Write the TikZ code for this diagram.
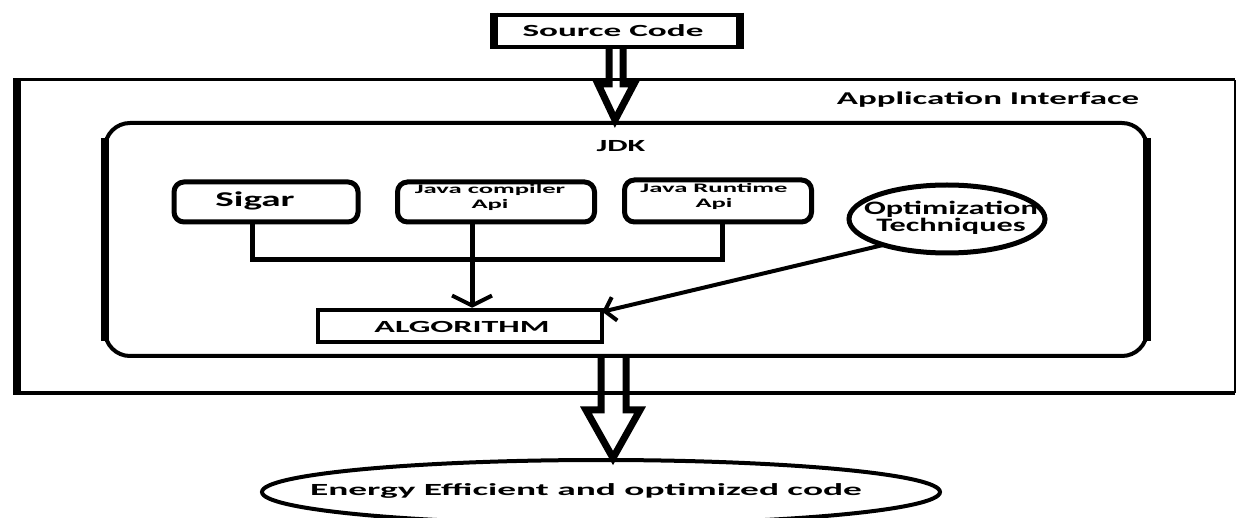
\documentclass[tikz,border=0pt]{standalone}
\usepackage{fontspec}
\setmainfont{Carlito}[BoldFont={Carlito Bold}]
\usepackage{graphicx}
\usetikzlibrary{shapes.geometric,arrows.meta}
\newcommand{\stretchtxt}[2]{\scalebox{#1}[1]{#2}}
\tikzset{
  txt/.style={inner sep=0pt, font=\bfseries},
  rbox/.style={draw, line width=5, rounded corners=10, inner sep=0pt},
  sbox/.style={draw, line width=4.5, inner sep=0pt},
  conn/.style={line width=5},
  barb/.style={-{Straight Barb[length=10,width=40,line width=4]}},
  hollow/.style={line width=7, line join=miter},
}
\begin{document}
\begin{tikzpicture}[x=1pt,y=-1pt]
\useasboundingbox (0,0) rectangle (1237,518);
% outer box (Application Interface)
\draw[line width=3] (17,80) -- (1235,80);
\draw[line width=2] (1235,80) -- (1235,393);
\draw[line width=4] (17,393) -- (1235,393);
\draw[line width=8] (17,78.5) -- (17,395);
\node[txt] (appl) at (988,100) {\fontsize{18}{18}\selectfont\stretchtxt{1.94}{Application Interface}};
% inner rounded JDK box
\draw[line width=4, rounded corners=25] (105,123) rectangle (1147,356);
\draw[line width=8] (105,138) -- (105,341);
\draw[line width=8] (1147,138) -- (1147,341);
\node[txt] (jdk) at (621,146) {\fontsize{17}{17}\selectfont\stretchtxt{1.9}{JDK}};
% source code
\node[sbox, minimum width=242, minimum height=32] (src) at (617,31) {};
\node[txt] at (613,31) {\fontsize{17}{17}\selectfont\stretchtxt{2.07}{Source Code}};
\draw[line width=8] (src.north west) -- (src.south west);
\draw[line width=8] (src.north east) -- (src.south east);
% boxes
\node[rbox, minimum width=184, minimum height=40] (sigar) at (266,202) {};
\node[txt] at (255,201) {\fontsize{21}{21}\selectfont\stretchtxt{1.86}{Sigar}};
\node[rbox, minimum width=197, minimum height=40] (jc) at (496,202) {};
\node[txt, align=center, anchor=north, font=\bfseries\fontsize{13}{15}\selectfont] at (490,184) {\stretchtxt{2.05}{Java compiler}\\\stretchtxt{2.05}{Api}};
\node[rbox, minimum width=187, minimum height=42] (jr) at (718,201) {};
\node[txt, align=center, anchor=north, font=\bfseries\fontsize{13}{15}\selectfont] at (714,183) {\stretchtxt{2.05}{Java Runtime}\\\stretchtxt{2.05}{Api}};
\node[draw, ellipse, line width=5, minimum width=196, minimum height=68, inner sep=0pt] (opt) at (947,219) {};
\node[txt, align=center, font=\bfseries\fontsize{19}{17}\selectfont] at (951,218) {\stretchtxt{1.7}{Optimization}\\\stretchtxt{1.7}{Techniques}};
\node[sbox, minimum width=284, minimum height=32] (alg) at (460,326) {};
\node[txt] at (462,327) {\fontsize{17}{17}\selectfont\stretchtxt{2.0}{ALGORITHM}};
% output ellipse
\node[draw, ellipse, line width=4, minimum width=678, minimum height=64, inner sep=0pt] (out) at (601,492) {};
\node[txt] at (586,491) {\fontsize{17}{17}\selectfont\stretchtxt{2.2}{Energy Efficient and optimized code}};
% connectors
\draw[conn] ([xshift=-14]sigar.south) |- ([xshift=4]jr.south |- 0,260) -- ([xshift=4]jr.south);
\draw[conn, barb] ([xshift=-24]jc.south) -- ([xshift=12]alg.north);
\draw[conn, line width=4, -{Straight Barb[length=10,width=24,line width=4]}] (opt.south west) ++(8,0) -- ([xshift=-2,yshift=-4]alg.north east);
% hollow arrows
\draw[hollow] (609,47) -- (609,84) -- (598,84) -- (615,120) -- (634,84) -- (623,84) -- (623,47);
\draw[hollow] (601,355) -- (601,410) -- (586,410) -- (613,458) -- (640,410) -- (626,410) -- (626,355);
\end{tikzpicture}
\end{document}
